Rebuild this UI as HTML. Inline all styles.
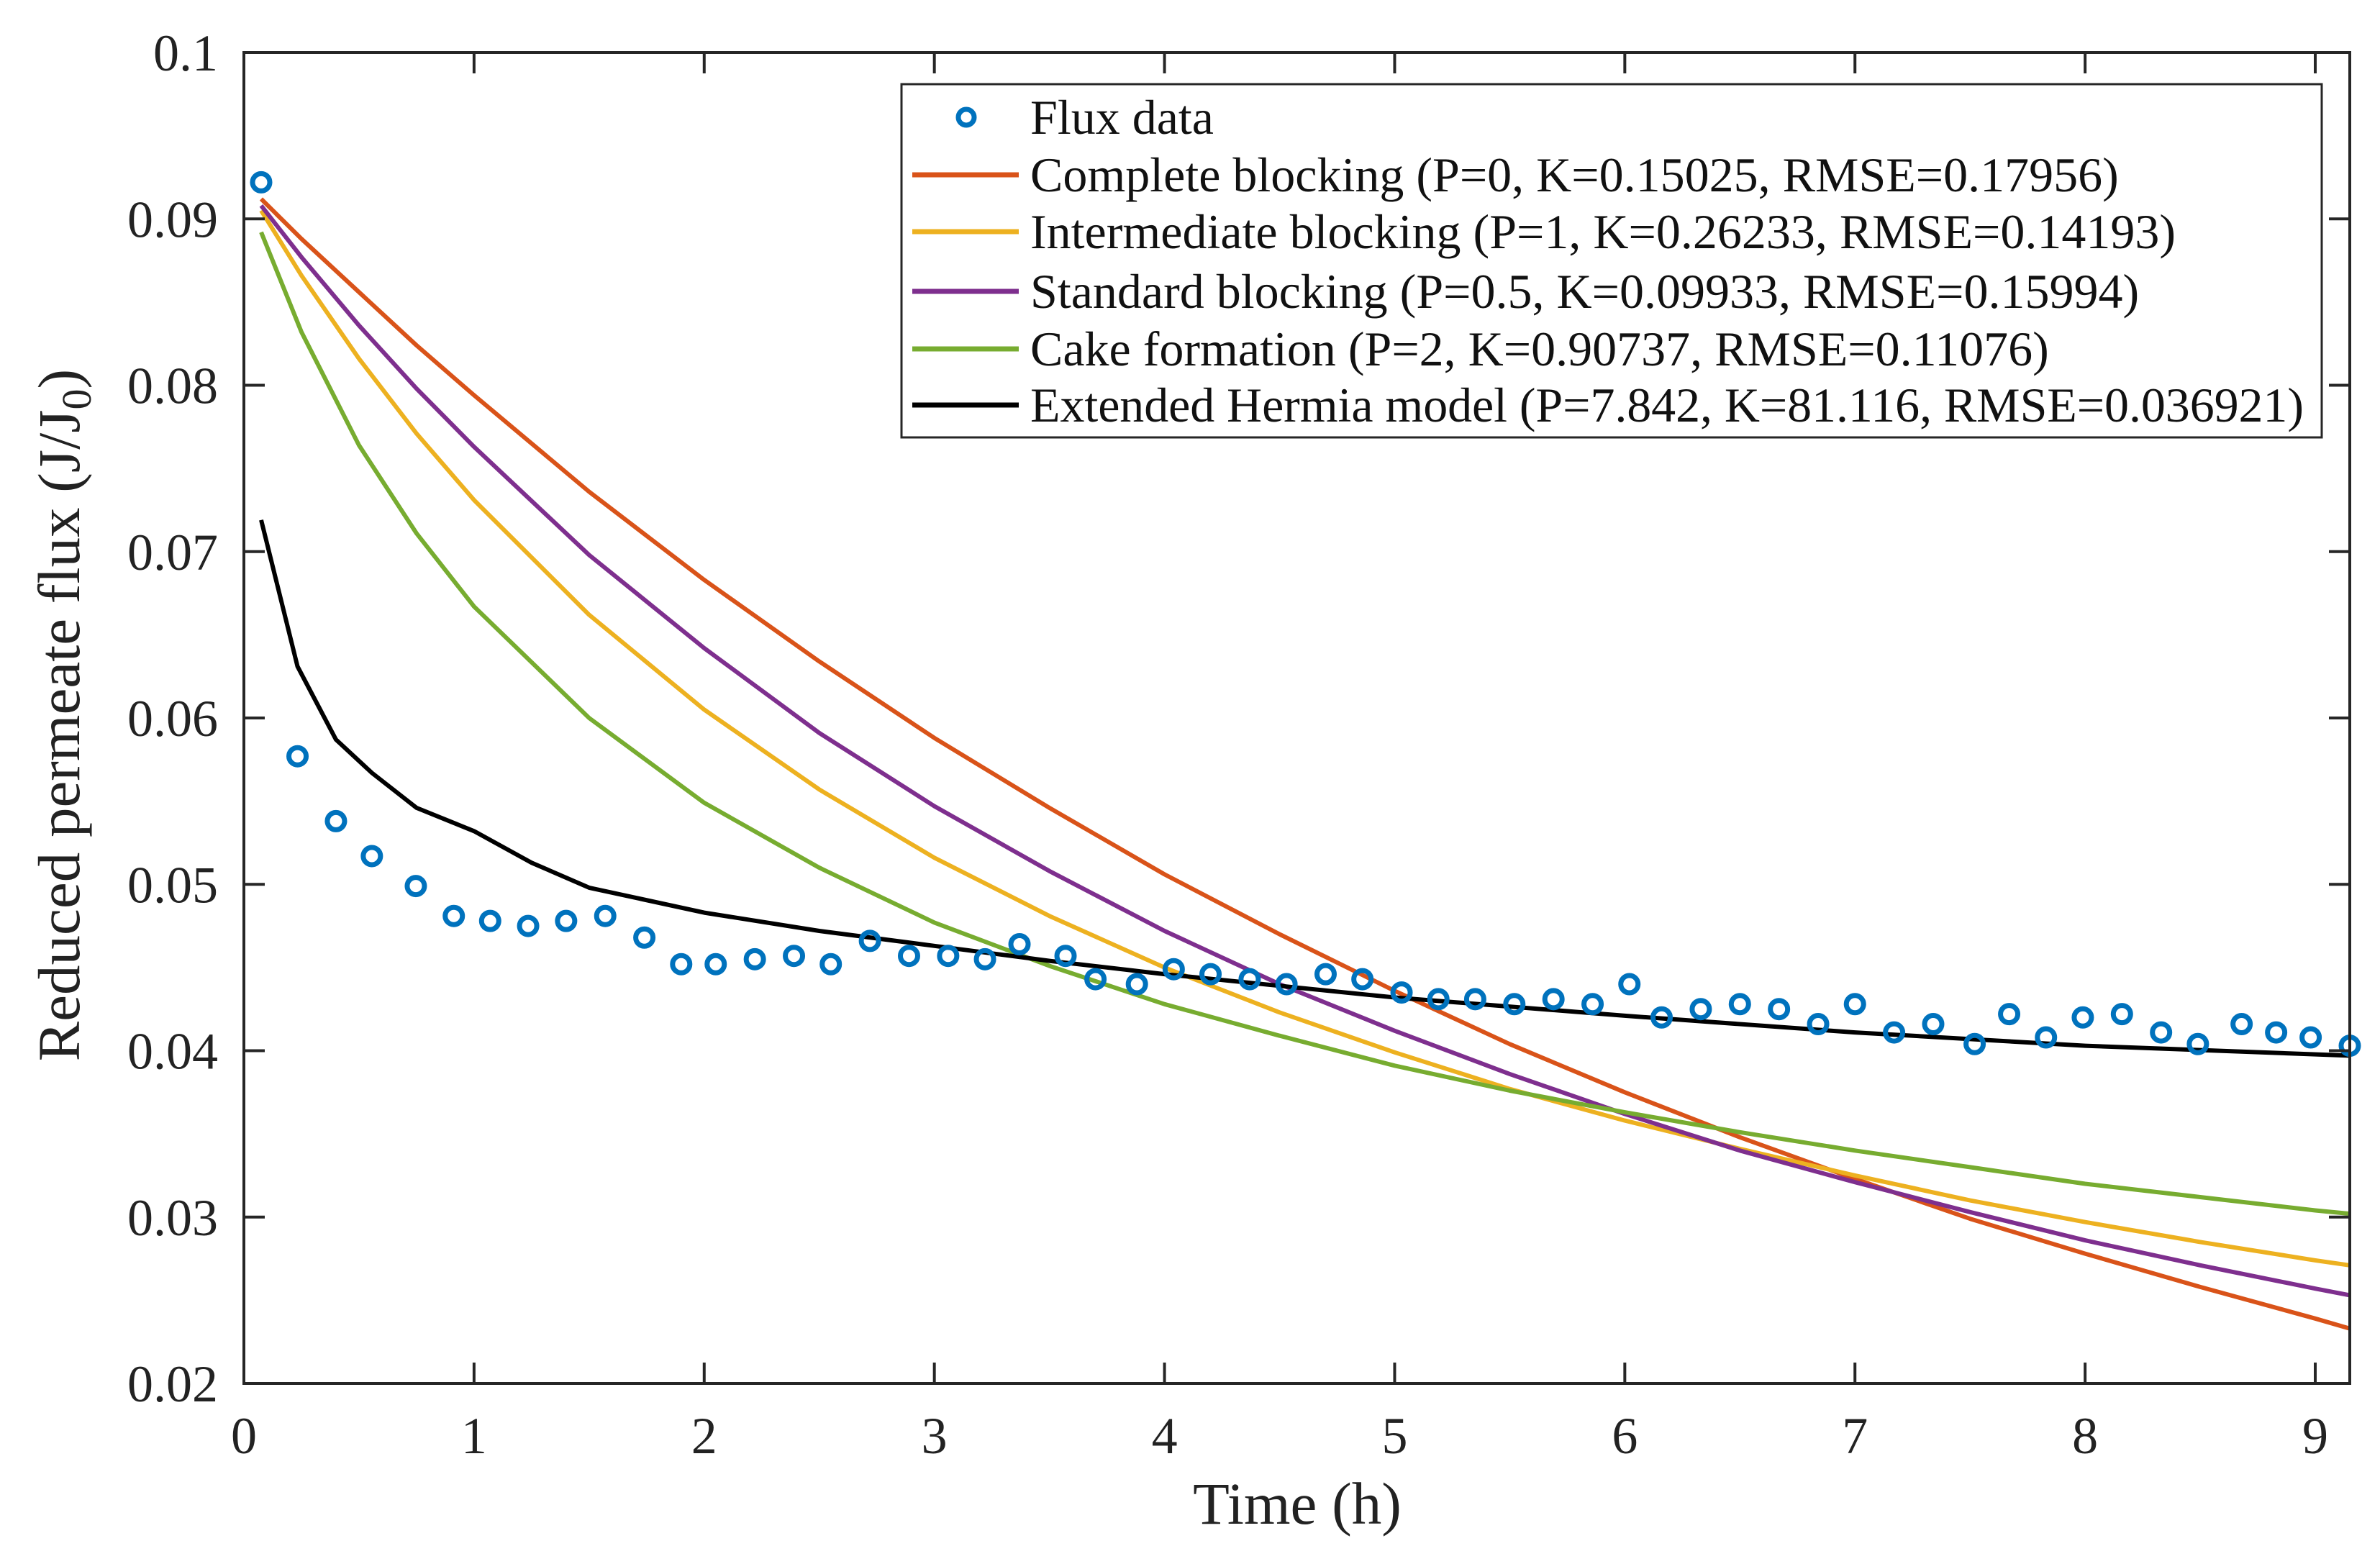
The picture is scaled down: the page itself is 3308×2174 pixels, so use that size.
<!DOCTYPE html>
<html><head><meta charset="utf-8"><style>
html,body{margin:0;padding:0;background:#fff;}
svg{display:block;font-family:"Liberation Serif",serif;}
</style></head><body>
<svg id="chart" width="3308" height="2174" viewBox="0 0 3308 2174" xmlns="http://www.w3.org/2000/svg">
<rect x="0" y="0" width="3308" height="2174" fill="#fff"/>
<g id="plot"></g>
<g id="axes"></g>
<text x="110" y="994" transform="rotate(-90 110 994)" text-anchor="middle" font-size="83" fill="#222">Reduced permeate flux (J/J<tspan font-size="58" dy="16">0</tspan><tspan dy="-16">)</tspan></text>
<text x="1803" y="2118" text-anchor="middle" font-size="83" fill="#222">Time (h)</text>
<g id="legend"></g>
</svg>
<script>
const xTicks=[0,1,2,3,4,5,6,7,8,9];
const yTicks=[0.02,0.03,0.04,0.05,0.06,0.07,0.08,0.09,0.1];
const yTickLabels=["0.02","0.03","0.04","0.05","0.06","0.07","0.08","0.09","0.1"];
const dataT=[0.075,0.233,0.40,0.556,0.747,0.912,1.07,1.235,1.40,1.57,1.74,1.90,2.05,2.22,2.39,2.55,2.72,2.89,3.06,3.22,3.37,3.57,3.70,3.88,4.04,4.20,4.37,4.53,4.70,4.86,5.03,5.19,5.35,5.52,5.69,5.86,6.02,6.16,6.33,6.50,6.67,6.84,7.00,7.17,7.34,7.52,7.67,7.83,7.99,8.16,8.33,8.49,8.68,8.83,8.98,9.15];
const dataV=[0.0922,0.0577,0.0538,0.0517,0.0499,0.0481,0.0478,0.0475,0.0478,0.0481,0.0468,0.0452,0.0452,0.0455,0.0457,0.0452,0.0466,0.0457,0.0457,0.0455,0.0464,0.0457,0.0443,0.0440,0.0449,0.0446,0.0443,0.0440,0.0446,0.0443,0.0435,0.0431,0.0431,0.0428,0.0431,0.0428,0.0440,0.0420,0.0425,0.0428,0.0425,0.0416,0.0428,0.0411,0.0416,0.0404,0.0422,0.0408,0.0420,0.0422,0.0411,0.0404,0.0416,0.0411,0.0408,0.0403];
const modelT=[0.075,0.25,0.5,0.75,1,1.5,2,2.5,3,3.5,4,4.5,5,5.5,6,6.5,7,7.5,8,8.5,9,9.15];
const completeV=[0.0912,0.0888,0.0856,0.0824,0.0794,0.0736,0.0683,0.0634,0.0588,0.0546,0.0506,0.0470,0.0436,0.0404,0.0375,0.0348,0.0323,0.0299,0.0278,0.0258,0.0239,0.0233];
const intermediateV=[0.0905,0.0866,0.0816,0.0771,0.0731,0.0662,0.0605,0.0557,0.0516,0.0481,0.0450,0.0423,0.0399,0.0377,0.0358,0.0341,0.0325,0.0310,0.0297,0.0285,0.0274,0.0271];
const standardV=[0.0908,0.0877,0.0836,0.0798,0.0763,0.0698,0.0642,0.0591,0.0547,0.0508,0.0472,0.0440,0.0412,0.0386,0.0362,0.0340,0.0321,0.0303,0.0286,0.0271,0.0257,0.0253];
const cakeV=[0.0892,0.0832,0.0764,0.0711,0.0667,0.0600,0.0549,0.0510,0.0477,0.0451,0.0428,0.0409,0.0391,0.0376,0.0363,0.0351,0.0340,0.0330,0.0320,0.0312,0.0304,0.0302];
const ehT=[0.075,0.233,0.40,0.556,0.75,1.0,1.25,1.5,2,2.5,3,3.5,4,5,6,7,8,9.15];
const ehV=[0.0719,0.0631,0.0587,0.0567,0.0546,0.0532,0.0513,0.0498,0.0483,0.0472,0.0463,0.0454,0.0446,0.0432,0.0421,0.0411,0.0403,0.0397];
const legendLabels=["Flux data","Complete blocking (P=0, K=0.15025, RMSE=0.17956)","Intermediate blocking (P=1, K=0.26233, RMSE=0.14193)","Standard blocking (P=0.5, K=0.09933, RMSE=0.15994)","Cake formation (P=2, K=0.90737, RMSE=0.11076)","Extended Hermia model (P=7.842, K=81.116, RMSE=0.036921)"];

const NS="http://www.w3.org/2000/svg";
const L=339,R=3266,T=73,B=1923,XMAX=9.15,YMIN=0.02,YMAX=0.1;
const xs=t=>L+(t/XMAX)*(R-L);
const ys=v=>B-(v-YMIN)/(YMAX-YMIN)*(B-T);
function mk(tag,attrs,parent){const e=document.createElementNS(NS,tag);for(const k in attrs)e.setAttribute(k,attrs[k]);parent.appendChild(e);return e;}
const plot=document.getElementById('plot'),axes=document.getElementById('axes'),leg=document.getElementById('legend');

const series=[["complete-blocking-line","#D95319",modelT,completeV],["intermediate-blocking-line","#EDB120",modelT,intermediateV],["standard-blocking-line","#7E2F8E",modelT,standardV],["cake-formation-line","#77AC30",modelT,cakeV],["extended-hermia-line","#000000",ehT,ehV]];
series.forEach(s=>{
  const d=s[2].map((t,i)=>(i?'L':'M')+xs(t).toFixed(1)+' '+ys(s[3][i]).toFixed(1)).join(' ');
  const p=mk('path',{d:d,fill:'none',stroke:s[1],'stroke-width':6,'stroke-linejoin':'round'},plot);
  
  
});
dataT.forEach((t,i)=>{
  const c=mk('circle',{cx:xs(t),cy:ys(dataV[i]),r:12,fill:'none',stroke:'#0072BD','stroke-width':7},plot);
  
  
});

const frame=mk('rect',{x:L,y:T,width:R-L,height:B-T,fill:'none',stroke:'#262626','stroke-width':4},axes);


xTicks.forEach(t=>{
  const x=xs(t);
  const tk=mk('path',{d:`M${x} ${B}V${B-29}M${x} ${T}V${T+29}`,stroke:'#262626','stroke-width':4},axes);
  
  
  const lb=mk('text',{x:x,y:2020,'text-anchor':'middle','font-size':72,fill:'#222'},axes);
  lb.textContent=String(t);
  
  
});
yTicks.forEach((v,i)=>{
  const y=ys(v);
  const tk=mk('path',{d:`M${L} ${y}H${L+29}M${R} ${y}H${R-29}`,stroke:'#262626','stroke-width':4},axes);
  
  
  const lb=mk('text',{x:303,y:y+25,'text-anchor':'end','font-size':72,fill:'#222'},axes);
  lb.textContent=yTickLabels[i];
  
  
});

const lbox=mk('rect',{x:1253,y:117,width:1974,height:491,fill:'#fff',stroke:'#262626','stroke-width':3},leg);


const rowY=[163,243,322,405,485,563];
const sampleColors=["#0072BD","#D95319","#EDB120","#7E2F8E","#77AC30","#000000"];
const textLens=[0,0,0,0,0,1770];
legendLabels.forEach((lab,i)=>{
  const g=mk('g',{},leg);
  
  
  if(i===0){mk('circle',{cx:1343,cy:rowY[i],r:11,fill:'none',stroke:sampleColors[i],'stroke-width':7},g);}
  else{mk('line',{x1:1268,x2:1416,y1:rowY[i],y2:rowY[i],stroke:sampleColors[i],'stroke-width':7},g);}
  const t=mk('text',{x:1432,y:rowY[i]+23,'font-size':68,fill:'#111'},g);
  if(textLens[i])t.setAttribute('textLength',textLens[i]);
  t.textContent=lab;
});
</script>
</body></html>
